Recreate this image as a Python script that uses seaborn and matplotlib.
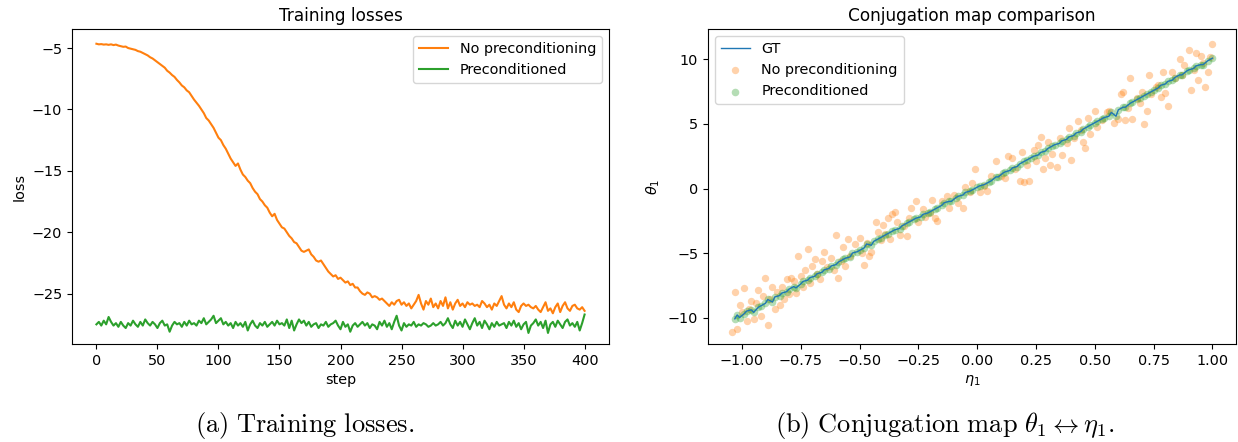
import numpy as np
import pandas as pd
import matplotlib
matplotlib.use("Agg")
import matplotlib.pyplot as plt
import seaborn as sns

# training loss values, one every 2 steps
steps = list(range(0, 401, 2))

loss_no_precond = [
    -4.65, -4.70, -4.68, -4.72, -4.70, -4.74, -4.70, -4.76, -4.72, -4.80, -4.85, -4.90, -4.88, -5.00, -5.05, -5.10, -5.15, -5.25, -5.30, -5.40,
    -5.50, -5.60, -5.75, -5.85, -6.00, -6.15, -6.30, -6.45, -6.60, -6.85, -7.00, -7.20, -7.35, -7.60, -7.80, -8.05, -8.20, -8.45, -8.60, -8.90,
    -9.20, -9.45, -9.70, -10.00, -10.30, -10.70, -10.90, -11.20, -11.50, -11.90, -12.30, -12.50, -12.90, -13.20, -13.60, -14.00, -14.30, -14.60, -14.40, -14.90,
    -15.30, -15.50, -15.80, -16.00, -16.40, -16.70, -16.90, -17.30, -17.50, -17.80, -18.00, -18.40, -18.70, -18.50, -19.00, -19.30, -19.60, -19.70, -20.00, -20.30,
    -20.50, -20.80, -20.90, -21.20, -21.50, -21.60, -21.50, -21.40, -21.80, -22.00, -22.30, -22.40, -22.30, -22.60, -22.90, -23.20, -23.40, -23.60, -23.50, -23.80,
    -23.70, -23.90, -24.10, -24.00, -24.30, -24.20, -24.50, -24.50, -24.80, -25.00, -25.10, -24.90, -25.00, -25.30, -25.20, -25.30, -25.50, -25.40, -25.60, -25.80,
    -26.00, -25.70, -25.90, -25.60, -25.50, -25.90, -25.70, -26.00, -25.80, -26.20, -25.90, -25.60, -25.10, -25.80, -26.30, -25.60, -25.90, -25.40, -26.10, -25.80,
    -26.20, -25.60, -26.00, -25.30, -26.20, -25.70, -26.30, -25.80, -25.50, -26.00, -25.80, -26.10, -25.70, -25.90, -25.80, -26.00, -25.90, -26.10, -25.60, -25.80,
    -26.10, -25.90, -26.30, -25.80, -26.00, -25.60, -25.20, -25.90, -26.20, -25.80, -26.10, -25.70, -26.30, -26.50, -26.00, -25.80, -26.00, -25.90, -26.10, -26.20,
    -26.00, -26.30, -26.50, -26.10, -25.70, -26.40, -26.20, -26.60, -26.10, -25.80, -26.50, -26.00, -25.70, -26.20, -26.40, -26.00, -25.90, -26.20, -26.30, -26.10,
    -26.40,
]

loss_precond = [
    -27.5, -27.3, -27.6, -27.2, -27.5, -26.9, -27.3, -27.6, -27.4, -27.7, -27.3, -27.6, -27.8, -27.4, -27.6, -27.2, -27.5, -27.7, -27.3, -27.6,
    -27.1, -27.4, -27.6, -27.3, -27.5, -27.8, -27.4, -27.2, -27.6, -27.5, -28.1, -27.6, -27.3, -27.5, -27.4, -27.7, -27.3, -27.6, -27.2, -27.5,
    -27.4, -27.6, -27.2, -27.4, -27.0, -27.5, -27.3, -27.1, -26.8, -27.4, -27.2, -27.0, -27.5, -27.3, -27.6, -27.4, -27.8, -27.3, -27.6, -27.4,
    -27.7, -27.3, -28.0, -27.5, -27.2, -27.6, -27.8, -27.4, -27.6, -27.3, -27.7, -27.5, -27.3, -27.6, -27.2, -27.5, -27.4, -27.6, -27.1, -27.8,
    -27.2, -28.0, -27.5, -27.1, -27.4, -27.2, -27.6, -27.3, -27.7, -27.5, -27.4, -27.8, -27.5, -27.6, -27.3, -27.7, -27.5, -27.4, -27.2, -27.6,
    -27.9, -27.3, -27.7, -27.5, -28.1, -27.6, -27.4, -27.7, -27.5, -27.3, -27.6, -27.4, -27.8, -27.5, -27.6, -27.9, -27.3, -27.6, -27.2, -27.7,
    -27.4, -27.9, -27.3, -26.8, -27.6, -28.0, -27.4, -27.7, -27.5, -27.6, -27.3, -27.7, -27.5, -27.6, -27.4, -27.5, -27.7, -27.6, -27.4, -27.6,
    -27.5, -27.3, -27.6, -27.4, -27.0, -27.5, -27.8, -27.2, -27.6, -27.3, -27.7, -27.1, -27.5, -27.9, -27.4, -27.0, -27.6, -27.3, -27.8, -27.2,
    -27.5, -27.9, -27.4, -27.7, -27.3, -27.6, -27.5, -27.4, -27.8, -27.3, -27.6, -27.2, -27.7, -27.4, -27.9, -27.5, -27.3, -28.2, -27.6, -27.4,
    -27.1, -27.6, -27.3, -27.8, -27.2, -28.2, -27.5, -27.3, -27.7, -27.2, -27.5, -27.8, -27.3, -27.1, -27.6, -27.4, -27.7, -27.3, -28.0, -27.4,
    -26.7,
]

# ground truth conjugation map (the preconditioned points sit on it)
eta_gt = [
    -1.03, -1.02, -1.01, -0.99, -0.98, -0.96, -0.95, -0.93, -0.92, -0.90, -0.89, -0.87, -0.86, -0.84, -0.83, -0.81, -0.80, -0.78, -0.77, -0.75,
    -0.74, -0.72, -0.71, -0.69, -0.68, -0.66, -0.65, -0.63, -0.62, -0.60, -0.59, -0.57, -0.56, -0.54, -0.53, -0.51, -0.50, -0.48, -0.47, -0.45,
    -0.44, -0.42, -0.41, -0.39, -0.38, -0.36, -0.35, -0.33, -0.32, -0.30, -0.29, -0.27, -0.26, -0.24, -0.23, -0.21, -0.20, -0.18, -0.17, -0.15,
    -0.14, -0.12, -0.11, -0.09, -0.08, -0.06, -0.05, -0.03, -0.02, 0.00, 0.01, 0.03, 0.05, 0.06, 0.08, 0.09, 0.11, 0.12, 0.14, 0.15,
    0.17, 0.18, 0.20, 0.21, 0.23, 0.24, 0.26, 0.27, 0.29, 0.30, 0.32, 0.33, 0.35, 0.36, 0.38, 0.39, 0.41, 0.42, 0.44, 0.45,
    0.47, 0.48, 0.50, 0.51, 0.53, 0.54, 0.56, 0.57, 0.59, 0.60, 0.62, 0.63, 0.65, 0.66, 0.68, 0.69, 0.71, 0.72, 0.74, 0.75,
    0.77, 0.78, 0.80, 0.81, 0.83, 0.84, 0.86, 0.87, 0.89, 0.90, 0.92, 0.93, 0.95, 0.96, 0.98, 1.00,
]
theta_gt = [
    -10.1, -9.8, -10.0, -9.7, -9.5, -9.4, -9.6, -9.2, -9.1, -8.9, -8.6, -8.8, -8.4, -8.3, -8.1, -8.0, -7.8, -7.6, -7.7, -7.4,
    -7.2, -7.1, -6.9, -6.8, -6.6, -6.5, -6.3, -6.2, -6.0, -5.9, -5.7, -5.5, -5.4, -5.3, -5.0, -4.9, -4.8, -4.6, -4.3, -4.4,
    -4.1, -3.9, -3.8, -3.6, -3.5, -3.3, -3.2, -3.1, -2.9, -2.7, -2.6, -2.4, -2.3, -2.2, -2.0, -1.9, -1.8, -1.6, -1.5, -1.3,
    -1.1, -1.0, -1.0, -0.7, -0.6, -0.5, -0.3, -0.2, -0.1, 0.1, 0.2, 0.3, 0.5, 0.6, 0.9, 0.9, 1.2, 1.3, 1.4, 1.6,
    1.7, 1.9, 2.1, 2.2, 2.4, 2.5, 2.6, 2.8, 2.9, 3.1, 3.3, 3.4, 3.5, 3.7, 3.8, 4.0, 4.1, 4.3, 4.4, 4.6,
    4.8, 4.9, 5.1, 5.2, 5.4, 5.5, 5.6, 5.9, 5.6, 6.1, 6.3, 6.3, 6.6, 6.7, 6.9, 7.0, 7.2, 7.3, 7.5, 7.6,
    7.8, 8.0, 8.1, 8.3, 8.4, 8.6, 8.8, 8.8, 9.1, 9.2, 9.3, 9.5, 9.6, 9.6, 9.9, 10.1,
]

# map predicted without preconditioning
eta_no_precond = [
    -1.04, -1.03, -1.02, -1.01, -1.00, -0.99, -0.98, -0.97, -0.96, -0.95, -0.94, -0.93, -0.92, -0.91, -0.90, -0.89, -0.88, -0.87, -0.86, -0.85,
    -0.84, -0.83, -0.82, -0.81, -0.80, -0.79, -0.78, -0.77, -0.76, -0.75, -0.74, -0.73, -0.72, -0.71, -0.70, -0.69, -0.68, -0.67, -0.66, -0.65,
    -0.64, -0.62, -0.61, -0.60, -0.59, -0.58, -0.57, -0.56, -0.55, -0.54, -0.52, -0.50, -0.49, -0.48, -0.47, -0.46, -0.45, -0.43, -0.42, -0.41,
    -0.40, -0.39, -0.38, -0.37, -0.36, -0.35, -0.34, -0.33, -0.31, -0.30, -0.29, -0.28, -0.26, -0.25, -0.23, -0.22, -0.20, -0.19, -0.18, -0.17,
    -0.15, -0.13, -0.12, -0.10, -0.08, -0.06, -0.05, -0.03, -0.02, -0.01, 0.01, 0.03, 0.04, 0.06, 0.08, 0.10, 0.12, 0.13, 0.15, 0.16,
    0.18, 0.19, 0.20, 0.21, 0.22, 0.24, 0.25, 0.26, 0.27, 0.28, 0.29, 0.30, 0.31, 0.32, 0.34, 0.35, 0.36, 0.38, 0.39, 0.40,
    0.41, 0.43, 0.44, 0.45, 0.46, 0.47, 0.48, 0.50, 0.51, 0.53, 0.55, 0.56, 0.58, 0.60, 0.61, 0.62, 0.63, 0.64, 0.65, 0.66,
    0.68, 0.69, 0.70, 0.71, 0.72, 0.73, 0.74, 0.76, 0.77, 0.78, 0.79, 0.80, 0.81, 0.83, 0.84, 0.86, 0.87, 0.88, 0.90, 0.91,
    0.92, 0.93, 0.94, 0.95, 0.96, 0.97, 0.98, 0.99, 1.00,
]
theta_no_precond = [
    -11.1, -8.0, -10.9, -9.0, -9.6, -7.7, -10.3, -9.3, -8.7, -10.1, -8.9, -7.9, -9.9, -8.3, -6.9, -10.6, -8.6, -7.6, -9.3, -8.0,
    -9.0, -7.6, -8.6, -7.0, -8.2, -6.9, -7.2, -8.1, -5.2, -6.8, -7.6, -6.3, -4.7, -7.3, -6.0, -5.5, -6.6, -7.0, -5.6, -4.9,
    -6.1, -5.4, -6.3, -3.6, -6.9, -5.6, -4.5, -6.0, -3.9, -5.2, -4.3, -3.8, -5.0, -5.9, -4.2, -5.2, -4.9, -2.6, -3.4, -4.0,
    -2.8, -3.5, -2.3, -3.9, -2.0, -1.8, -2.6, -3.6, -2.9, -3.7, -2.3, -1.5, -1.0, -2.6, -1.6, -2.2, -1.9, -0.9, -2.3, -2.5,
    -1.0, -0.6, -1.5, -0.5, -1.1, -1.5, 0.1, -0.3, 0.4, 1.5, -0.3, 0.2, -0.2, 1.0, 2.1, 1.0, 0.8, 2.5, 2.4, 1.5,
    0.6, 2.8, 0.5, 1.8, 0.6, 3.0, 2.1, 3.4, 4.0, 1.5, 2.4, 3.6, 1.8, 2.7, 1.7, 3.9, 2.6, 3.5, 4.7, 2.2,
    3.9, 5.2, 4.5, 3.6, 3.1, 5.5, 4.2, 6.0, 4.8, 5.3, 5.9, 6.0, 5.1, 5.4, 7.3, 7.5, 5.3, 6.2, 8.6, 5.4,
    7.0, 6.6, 7.5, 5.0, 6.0, 8.8, 7.3, 7.9, 8.0, 7.1, 9.0, 7.4, 6.4, 9.0, 8.6, 10.0, 8.8, 9.6, 10.7, 7.6,
    9.2, 10.5, 8.4, 10.3, 9.7, 7.9, 9.0, 10.2, 11.2,
]

orange = "#ff7f0e"
green = "#2ca02c"
blue = "#1f77b4"

plt.rcParams["font.size"] = 10.4

fig = plt.figure(figsize=(12.38, 4.42), dpi=100)
ax1 = fig.add_axes([72 / 1238, 1 - 344 / 442, (609 - 72) / 1238, (344 - 29) / 442])
ax2 = fig.add_axes([708 / 1238, 1 - 344 / 442, (1236 - 708) / 1238, (344 - 29) / 442])

# left: training losses
loss_df = pd.DataFrame({"step": steps, "no": loss_no_precond, "pre": loss_precond})
sns.lineplot(data=loss_df, x="step", y="no", color=orange, lw=1.5, ax=ax1, label="No preconditioning")
sns.lineplot(data=loss_df, x="step", y="pre", color=green, lw=1.5, ax=ax1, label="Preconditioned")
ax1.set_xlim(-20, 420)
ax1.set_ylim(-29.1, -3.45)
ax1.set_xlabel("step")
ax1.set_ylabel("loss")
ax1.set_title("Training losses", fontsize=12.2)
ax1.legend(loc="upper right")

# right: conjugation map
sns.lineplot(x=eta_gt, y=theta_gt, color=blue, lw=1, sort=False, ax=ax2, label="GT", zorder=3)
sns.scatterplot(x=eta_no_precond, y=theta_no_precond, color=orange, alpha=0.35, s=28,
                linewidth=0, ax=ax2, label="No preconditioning")
sns.scatterplot(x=eta_gt, y=theta_gt, color=green, alpha=0.35, s=30,
                linewidth=0, ax=ax2, label="Preconditioned")
ax2.set_xlim(-1.144, 1.10)
ax2.set_ylim(-12.05, 12.36)
ax2.set_xticks([-1.0, -0.75, -0.5, -0.25, 0.0, 0.25, 0.5, 0.75, 1.0])
ax2.set_xlabel(r"$\eta_1$")
ax2.set_ylabel(r"$\theta_1$")
ax2.set_title("Conjugation map comparison", fontsize=12.2)
ax2.legend(loc="upper left")

# subfigure captions in computer modern
fig.text(0.246, 0.022, r"$\mathrm{(a)\ Training\ losses.}$", ha="center", va="baseline",
         fontsize=19, math_fontfamily="cm")
fig.text(0.763, 0.022, r"$\mathrm{(b)\ Conjugation\ map\ }\theta_1 \leftrightarrow \eta_1\mathrm{.}$",
         ha="center", va="baseline", fontsize=19, math_fontfamily="cm")

fig.savefig("out.png", dpi=100)
